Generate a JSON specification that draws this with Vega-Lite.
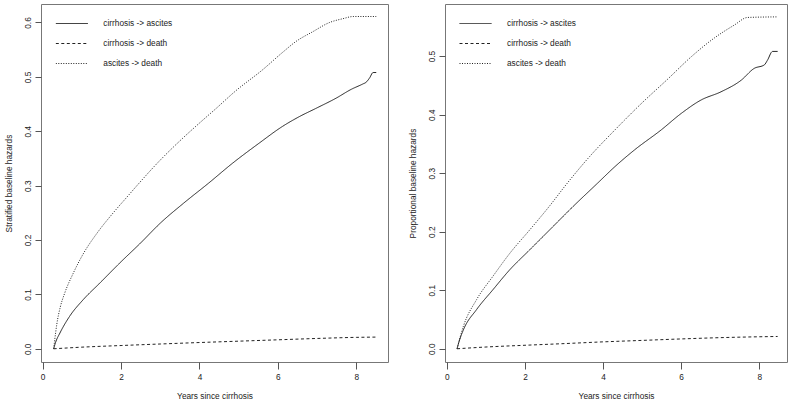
{
  "$schema": "https://vega.github.io/schema/vega-lite/v6.json",
  "padding": {"left": 3, "top": 3, "right": 0, "bottom": 0},
  "spacing": 18,
  "datasets": {
    "strat": [
      {"trans": "cirrhosis -> ascites", "x": 0.28, "y": 0},
      {"trans": "cirrhosis -> ascites", "x": 0.33, "y": 0.012},
      {"trans": "cirrhosis -> ascites", "x": 0.44, "y": 0.029},
      {"trans": "cirrhosis -> ascites", "x": 0.69, "y": 0.06},
      {"trans": "cirrhosis -> ascites", "x": 1.03, "y": 0.09},
      {"trans": "cirrhosis -> ascites", "x": 1.46, "y": 0.121},
      {"trans": "cirrhosis -> ascites", "x": 1.97, "y": 0.158},
      {"trans": "cirrhosis -> ascites", "x": 2.49, "y": 0.194},
      {"trans": "cirrhosis -> ascites", "x": 3.0, "y": 0.231},
      {"trans": "cirrhosis -> ascites", "x": 3.6, "y": 0.268},
      {"trans": "cirrhosis -> ascites", "x": 4.24, "y": 0.305},
      {"trans": "cirrhosis -> ascites", "x": 4.84, "y": 0.341},
      {"trans": "cirrhosis -> ascites", "x": 5.52, "y": 0.378},
      {"trans": "cirrhosis -> ascites", "x": 6.12, "y": 0.409},
      {"trans": "cirrhosis -> ascites", "x": 6.55, "y": 0.427},
      {"trans": "cirrhosis -> ascites", "x": 6.97, "y": 0.442},
      {"trans": "cirrhosis -> ascites", "x": 7.49, "y": 0.461},
      {"trans": "cirrhosis -> ascites", "x": 7.87, "y": 0.477},
      {"trans": "cirrhosis -> ascites", "x": 8.17, "y": 0.487},
      {"trans": "cirrhosis -> ascites", "x": 8.25, "y": 0.49},
      {"trans": "cirrhosis -> ascites", "x": 8.34, "y": 0.498},
      {"trans": "cirrhosis -> ascites", "x": 8.43, "y": 0.508},
      {"trans": "cirrhosis -> ascites", "x": 8.51, "y": 0.508},
      {"trans": "cirrhosis -> death", "x": 0.28, "y": 0},
      {"trans": "cirrhosis -> death", "x": 1.0, "y": 0.003},
      {"trans": "cirrhosis -> death", "x": 2.0, "y": 0.006},
      {"trans": "cirrhosis -> death", "x": 3.0, "y": 0.0088},
      {"trans": "cirrhosis -> death", "x": 4.0, "y": 0.0115},
      {"trans": "cirrhosis -> death", "x": 5.0, "y": 0.014},
      {"trans": "cirrhosis -> death", "x": 6.0, "y": 0.0165},
      {"trans": "cirrhosis -> death", "x": 7.0, "y": 0.019},
      {"trans": "cirrhosis -> death", "x": 8.0, "y": 0.021},
      {"trans": "cirrhosis -> death", "x": 8.51, "y": 0.0215},
      {"trans": "ascites -> death", "x": 0.28, "y": 0},
      {"trans": "ascites -> death", "x": 0.31, "y": 0.018},
      {"trans": "ascites -> death", "x": 0.36, "y": 0.045},
      {"trans": "ascites -> death", "x": 0.45, "y": 0.077},
      {"trans": "ascites -> death", "x": 0.56, "y": 0.102},
      {"trans": "ascites -> death", "x": 0.78, "y": 0.139},
      {"trans": "ascites -> death", "x": 1.03, "y": 0.174},
      {"trans": "ascites -> death", "x": 1.38, "y": 0.212},
      {"trans": "ascites -> death", "x": 1.8, "y": 0.25},
      {"trans": "ascites -> death", "x": 2.15, "y": 0.279},
      {"trans": "ascites -> death", "x": 2.49, "y": 0.307},
      {"trans": "ascites -> death", "x": 2.92, "y": 0.341},
      {"trans": "ascites -> death", "x": 3.51, "y": 0.383},
      {"trans": "ascites -> death", "x": 4.03, "y": 0.417},
      {"trans": "ascites -> death", "x": 4.41, "y": 0.441},
      {"trans": "ascites -> death", "x": 4.92, "y": 0.474},
      {"trans": "ascites -> death", "x": 5.61, "y": 0.513},
      {"trans": "ascites -> death", "x": 6.12, "y": 0.545},
      {"trans": "ascites -> death", "x": 6.46, "y": 0.565},
      {"trans": "ascites -> death", "x": 6.89, "y": 0.583},
      {"trans": "ascites -> death", "x": 7.32, "y": 0.6},
      {"trans": "ascites -> death", "x": 7.66, "y": 0.607},
      {"trans": "ascites -> death", "x": 7.92, "y": 0.611},
      {"trans": "ascites -> death", "x": 8.51, "y": 0.611}
    ],
    "prop": [
      {"trans": "cirrhosis -> ascites", "x": 0.26, "y": 0},
      {"trans": "cirrhosis -> ascites", "x": 0.31, "y": 0.012},
      {"trans": "cirrhosis -> ascites", "x": 0.42, "y": 0.032},
      {"trans": "cirrhosis -> ascites", "x": 0.76, "y": 0.067},
      {"trans": "cirrhosis -> ascites", "x": 1.18, "y": 0.101},
      {"trans": "cirrhosis -> ascites", "x": 1.61, "y": 0.135},
      {"trans": "cirrhosis -> ascites", "x": 2.12, "y": 0.169},
      {"trans": "cirrhosis -> ascites", "x": 2.63, "y": 0.203},
      {"trans": "cirrhosis -> ascites", "x": 3.23, "y": 0.243},
      {"trans": "cirrhosis -> ascites", "x": 3.86, "y": 0.283},
      {"trans": "cirrhosis -> ascites", "x": 4.3, "y": 0.311},
      {"trans": "cirrhosis -> ascites", "x": 4.81, "y": 0.34},
      {"trans": "cirrhosis -> ascites", "x": 5.49, "y": 0.374},
      {"trans": "cirrhosis -> ascites", "x": 6.0, "y": 0.402},
      {"trans": "cirrhosis -> ascites", "x": 6.51, "y": 0.425},
      {"trans": "cirrhosis -> ascites", "x": 7.02, "y": 0.439},
      {"trans": "cirrhosis -> ascites", "x": 7.54, "y": 0.459},
      {"trans": "cirrhosis -> ascites", "x": 7.87, "y": 0.479},
      {"trans": "cirrhosis -> ascites", "x": 8.13, "y": 0.485},
      {"trans": "cirrhosis -> ascites", "x": 8.21, "y": 0.493},
      {"trans": "cirrhosis -> ascites", "x": 8.34, "y": 0.508},
      {"trans": "cirrhosis -> ascites", "x": 8.47, "y": 0.508},
      {"trans": "cirrhosis -> death", "x": 0.26, "y": 0},
      {"trans": "cirrhosis -> death", "x": 1.0, "y": 0.003},
      {"trans": "cirrhosis -> death", "x": 2.0, "y": 0.006},
      {"trans": "cirrhosis -> death", "x": 3.0, "y": 0.0088},
      {"trans": "cirrhosis -> death", "x": 4.0, "y": 0.0118},
      {"trans": "cirrhosis -> death", "x": 5.0, "y": 0.0143},
      {"trans": "cirrhosis -> death", "x": 6.0, "y": 0.0168},
      {"trans": "cirrhosis -> death", "x": 7.0, "y": 0.019},
      {"trans": "cirrhosis -> death", "x": 8.0, "y": 0.0205},
      {"trans": "cirrhosis -> death", "x": 8.47, "y": 0.021},
      {"trans": "ascites -> death", "x": 0.26, "y": 0},
      {"trans": "ascites -> death", "x": 0.42, "y": 0.038},
      {"trans": "ascites -> death", "x": 0.76, "y": 0.084},
      {"trans": "ascites -> death", "x": 1.18, "y": 0.124},
      {"trans": "ascites -> death", "x": 1.61, "y": 0.163},
      {"trans": "ascites -> death", "x": 2.12, "y": 0.203},
      {"trans": "ascites -> death", "x": 2.63, "y": 0.244},
      {"trans": "ascites -> death", "x": 3.06, "y": 0.281},
      {"trans": "ascites -> death", "x": 3.65, "y": 0.328},
      {"trans": "ascites -> death", "x": 4.29, "y": 0.373},
      {"trans": "ascites -> death", "x": 4.98, "y": 0.419},
      {"trans": "ascites -> death", "x": 5.66, "y": 0.461},
      {"trans": "ascites -> death", "x": 6.26, "y": 0.499},
      {"trans": "ascites -> death", "x": 6.85, "y": 0.531},
      {"trans": "ascites -> death", "x": 7.36, "y": 0.553},
      {"trans": "ascites -> death", "x": 7.7, "y": 0.566},
      {"trans": "ascites -> death", "x": 8.47, "y": 0.567}
    ]
  },
  "hconcat": [
    {
      "width": 347,
      "height": 358,
      "data": {"name": "strat"},
      "mark": {"type": "line", "strokeWidth": 1, "color": "#222", "interpolate": "monotone"},
      "encoding": {
        "x": {"field": "x", "type": "quantitative", "title": "Years since cirrhosis",
              "scale": {"domain": [-0.043, 8.81], "nice": false, "zero": false},
              "axis": {"values": [0, 2, 4, 6, 8], "format": "d"}},
        "y": {"field": "y", "type": "quantitative", "title": "Stratified baseline hazards",
              "scale": {"domain": [-0.0243, 0.634], "nice": false, "zero": false},
              "axis": {"values": [0, 0.1, 0.2, 0.3, 0.4, 0.5, 0.6], "format": ".1f"}},
        "strokeDash": {"field": "trans", "type": "nominal",
              "scale": {"domain": ["cirrhosis -> ascites", "cirrhosis -> death", "ascites -> death"],
                        "range": [[1, 0], [3, 2.5], [1, 1.5]]},
              "legend": {"title": null, "orient": "none", "legendX": 14.3, "legendY": 9.5}}
      }
    },
    {
      "width": 342,
      "height": 358,
      "data": {"name": "prop"},
      "mark": {"type": "line", "strokeWidth": 1, "color": "#222", "interpolate": "monotone"},
      "encoding": {
        "x": {"field": "x", "type": "quantitative", "title": "Years since cirrhosis",
              "scale": {"domain": [-0.049, 8.71], "nice": false, "zero": false},
              "axis": {"values": [0, 2, 4, 6, 8], "format": "d"}},
        "y": {"field": "y", "type": "quantitative", "title": "Proportional baseline hazards",
              "scale": {"domain": [-0.0226, 0.589], "nice": false, "zero": false},
              "axis": {"values": [0, 0.1, 0.2, 0.3, 0.4, 0.5], "format": ".1f"}},
        "strokeDash": {"field": "trans", "type": "nominal",
              "scale": {"domain": ["cirrhosis -> ascites", "cirrhosis -> death", "ascites -> death"],
                        "range": [[1, 0], [3, 2.5], [1, 1.5]]},
              "legend": {"title": null, "orient": "none", "legendX": 14, "legendY": 9.5}}
      }
    }
  ],
  "resolve": {"scale": {"x": "independent", "y": "independent", "strokeDash": "independent"}, "legend": {"strokeDash": "independent"}},
  "config": {
    "font": "Liberation Sans",
    "view": {"stroke": "#777", "strokeWidth": 1},
    "axis": {"grid": false, "domain": false, "tickColor": "#555", "tickWidth": 1,
             "labelFontSize": 8.3, "titleFontSize": 8.3, "labelColor": "#222", "titleColor": "#222",
             "titleFontWeight": "normal", "labelFont": "Liberation Sans", "titleFont": "Liberation Sans", "labelFlush": false},
    "axisX": {"tickSize": 7, "labelPadding": 3, "titlePadding": 11.5},
    "axisY": {"tickSize": 6, "labelPadding": 2.5, "labelAngle": -90, "labelAlign": "center", "labelBaseline": "bottom", "titlePadding": 10.5},
    "legend": {"padding": 0, "symbolType": "stroke", "symbolSize": 1024, "symbolStrokeWidth": 1, "symbolStrokeColor": "#222",
               "labelFontSize": 8.3, "labelColor": "#222", "labelFont": "Liberation Sans", "labelOffset": 15,
               "clipHeight": 20, "rowPadding": 0}
  }
}
